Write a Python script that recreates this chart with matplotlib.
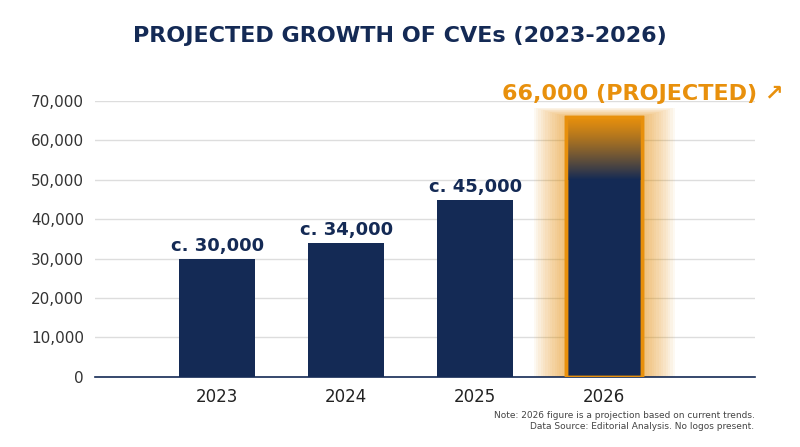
import matplotlib
matplotlib.use("Agg")
import matplotlib.pyplot as plt
import numpy as np
from matplotlib.patches import Rectangle, FancyBboxPatch

years = ["2023", "2024", "2025", "2026"]
values = [30000, 34000, 45000, 66000]
labels = ["c. 30,000", "c. 34,000", "c. 45,000", "66,000 (PROJECTED) ↗"]
yticks = [0, 10000, 20000, 30000, 40000, 50000, 60000, 70000]

NAVY = "#142a55"
ORANGE = "#e8900c"
plt.rcParams['font.family'] = ['DejaVu Sans']

fig = plt.figure(figsize=(8, 4.47), dpi=100)
ax = fig.add_axes([0.119, 0.157, 0.825, 0.617])
x = np.arange(len(years))
w = 0.59
ax.set_xlim(-0.946, 4.17)
ax.set_ylim(0, 70000)

# glow behind projected bar
xp, vp = x[3], values[3]
for i in range(14, 0, -1):
    pad = i * 0.018
    ax.add_patch(Rectangle((xp - w/2 - pad, 0), w + 2*pad, vp + pad*9000,
                           color=ORANGE, alpha=0.05, lw=0, zorder=1))

bars = ax.bar(x, values, width=w, color=NAVY, zorder=3)
bars[3].set_edgecolor(ORANGE)
bars[3].set_linewidth(2.5)

# gradient on top of the projected bar
c1 = np.array(matplotlib.colors.to_rgb(ORANGE))
c2 = np.array(matplotlib.colors.to_rgb(NAVY))
n = 100
t = np.linspace(0, 1, n)[:, None]
t = np.clip(t, 0, 1) ** 1.2
grad = (c1 * (1 - t) + c2 * t)[:, None, :]
ax.imshow(grad, extent=(xp - w/2, xp + w/2, 50000, vp), aspect='auto', zorder=4)
ax.add_patch(Rectangle((xp - w/2, 0), w, vp, fill=False, ec=ORANGE, lw=2.5, zorder=5))

for xi, v, lab in zip(x[:3], values[:3], labels[:3]):
    ax.text(xi, v + 1000, lab, ha='center', va='bottom', fontsize=13,
            fontweight='bold', color=NAVY)
ax.text(xp + 0.3, vp + 3200, labels[3], ha='center', va='bottom', fontsize=16,
        fontweight='bold', color=ORANGE, clip_on=False)

ax.set_yticks(yticks)
ax.set_yticklabels([f"{v:,}" for v in yticks], fontsize=11, color="#333333")
ax.set_xticks(x)
ax.set_xticklabels(years, fontsize=12, color="#222222")
ax.tick_params(length=0, pad=8)
ax.grid(axis='y', color="#dddddd", lw=1, zorder=0)
ax.set_axisbelow(True)
for s in ['top', 'right', 'left']:
    ax.spines[s].set_visible(False)
ax.spines['bottom'].set_color(NAVY)
ax.spines['bottom'].set_linewidth(1.2)

fig.text(0.5, 0.92, "PROJECTED GROWTH OF CVEs (2023-2026)", ha='center', va='center',
         fontsize=16, fontweight='bold', color=NAVY)
fig.text(0.943, 0.035, "Note: 2026 figure is a projection based on current trends.\nData Source: Editorial Analysis. No logos present.",
         ha='right', va='bottom', fontsize=6.5, color="#444444", linespacing=1.4)

fig.savefig("out.png", dpi=100)
